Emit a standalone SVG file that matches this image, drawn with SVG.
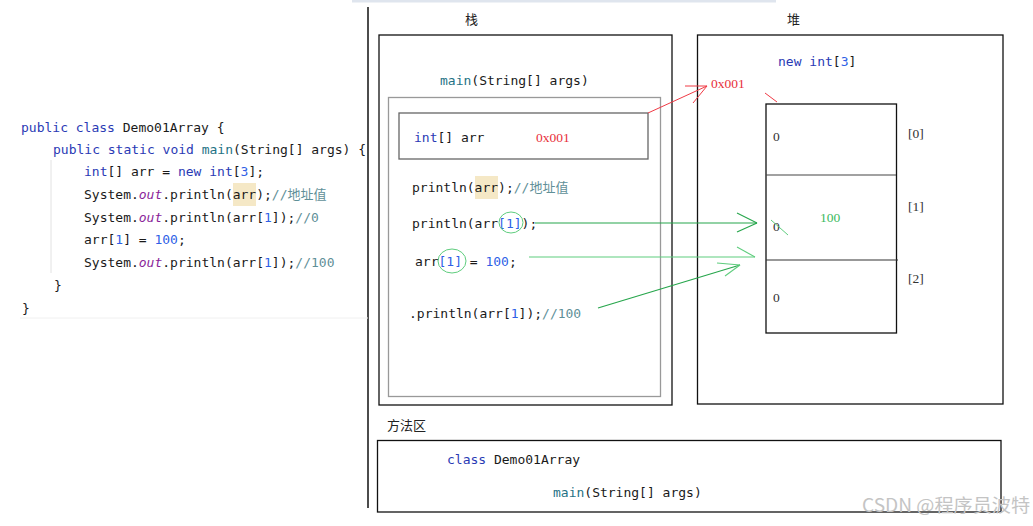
<svg xmlns="http://www.w3.org/2000/svg" width="1033" height="526" viewBox="0 0 1033 526">
<style>
.code{font-family:"DejaVu Sans Mono","Noto Sans CJK SC",monospace;font-size:13px;fill:#1a1a1a;white-space:pre}
.kw{fill:#2a3ab5}
.fn{fill:#1f7385}
.num{fill:#2f5fe6}
.cm{fill:#5f9098}
.st{fill:#8a1f9a;font-style:italic}
.cjk{font-family:"Noto Sans CJK SC",sans-serif;font-size:13px;fill:#222}
.sm{font-family:"Liberation Serif",serif;font-size:13.5px;fill:#333}
.red{fill:#e8303a}
.grn{fill:#3cba5e}
.box{fill:none;stroke:#111;stroke-width:1.3}
.gbox{fill:none;stroke:#999;stroke-width:1.3}
.rl{stroke:#f03a45;stroke-width:1;fill:none}
.g1{stroke:#27a64c;stroke-width:1.2;fill:none}
.g2{stroke:#5fcd7e;stroke-width:1.1;fill:none}
</style>
<rect width="1033" height="526" fill="#fff"/>
<rect x="352" y="0" width="424" height="2.5" fill="#dfe5ee"/>
<line x1="368" y1="7" x2="368" y2="508" stroke="#111" stroke-width="1.5"/>

<g id="code">
<line x1="51" y1="160" x2="51" y2="273" stroke="#e2e2e2" stroke-width="1"/>
<line x1="20" y1="318" x2="368" y2="318" stroke="#f0f0f0" stroke-width="1"/>
<rect x="233" y="183" width="23" height="23" fill="#f5e8c6"/>
<text class="code" x="21" y="132"><tspan class="kw">public class</tspan> Demo01Array {</text>
<text class="code" x="53" y="154"><tspan class="kw">public static void</tspan> <tspan class="fn">main</tspan>(String[] args) {</text>
<text class="code" x="84" y="176"><tspan class="kw">int</tspan>[] arr = <tspan class="kw">new int</tspan>[<tspan class="num">3</tspan>];</text>
<text class="code" x="84" y="199">System.<tspan class="st">out</tspan>.println(arr);<tspan class="cm">//地址值</tspan></text>
<text class="code" x="84" y="222">System.<tspan class="st">out</tspan>.println(arr[<tspan class="num">1</tspan>]);<tspan class="cm">//0</tspan></text>
<text class="code" x="84" y="244">arr[<tspan class="num">1</tspan>] = <tspan class="num">100</tspan>;</text>
<text class="code" x="84" y="267">System.<tspan class="st">out</tspan>.println(arr[<tspan class="num">1</tspan>]);<tspan class="cm">//100</tspan></text>
<text class="code" x="54" y="290">}</text>
<text class="code" x="22" y="313">}</text>
</g>

<g id="stack">
<text class="cjk" x="465" y="24">栈</text>
<rect class="box" x="379" y="35" width="293" height="370"/>
<text class="code" x="440" y="85"><tspan class="fn">main</tspan>(String[] args)</text>
<rect class="gbox" x="388.5" y="97.5" width="272" height="299"/>
<g id="arr-var">
<rect x="399" y="113" width="249" height="46" fill="none" stroke="#666" stroke-width="1.3"/>
<text class="code" x="414" y="142"><tspan class="kw">int</tspan>[] arr</text>
<text class="sm red" x="536" y="142">0x001</text>
</g>
<rect x="475" y="176" width="23" height="23" fill="#f5e8c6"/>
<text class="code" x="412" y="192">println(arr);<tspan class="cm">//地址值</tspan></text>
<text class="code" x="412" y="228">println(arr<tspan class="num">[1]</tspan>);</text>
<text class="code" x="415" y="266">arr<tspan class="num">[1]</tspan> = <tspan class="num">100</tspan>;</text>
<text class="code" x="409" y="318">.println(arr[<tspan class="num">1</tspan>]);<tspan class="cm">//100</tspan></text>
<ellipse cx="511" cy="222.5" rx="12" ry="10.5" fill="none" stroke="#5fcd7e" stroke-width="1"/>
<ellipse cx="452" cy="261" rx="14" ry="12" fill="none" stroke="#5fcd7e" stroke-width="1"/>
</g>

<g id="heap">
<text class="cjk" x="787" y="24">堆</text>
<rect class="box" x="697.5" y="35" width="305.5" height="369"/>
<text class="code" x="778" y="66"><tspan class="kw">new int</tspan>[<tspan class="num">3</tspan>]</text>
<text class="sm red" x="711" y="88">0x001</text>
</g>

<g id="array">
<rect x="766" y="104" width="130.5" height="229" fill="none" stroke="#111" stroke-width="1.3"/>
<line x1="766" y1="175" x2="896" y2="175" stroke="#444" stroke-width="1.2"/>
<line x1="766" y1="260" x2="898" y2="260" stroke="#333" stroke-width="1.2"/>
<text class="sm" x="773" y="141">0</text>
<text class="sm" x="773" y="231">0</text>
<text class="sm" x="773" y="302">0</text>
<text class="sm grn" x="820" y="222">100</text>
<line x1="771" y1="220" x2="788" y2="235" stroke="#5fcd7e" stroke-width="1"/>
<text class="sm" x="908" y="138">[0]</text>
<text class="sm" x="908" y="211">[1]</text>
<text class="sm" x="908" y="283">[2]</text>
</g>

<g id="method-area">
<text class="cjk" x="387" y="430">方法区</text>
<rect class="box" x="377.5" y="440.5" width="623.5" height="71.5"/>
<text class="code" x="447" y="464"><tspan class="kw">class</tspan> Demo01Array</text>
<text class="code" x="553" y="497"><tspan class="fn">main</tspan>(String[] args)</text>
</g>

<g id="connectors">
<line class="rl" x1="648" y1="113" x2="707" y2="86"/>
<line class="rl" x1="685" y1="86" x2="707" y2="86"/>
<line class="rl" x1="693" y1="103" x2="707" y2="86"/>
<line class="rl" x1="765" y1="93" x2="777" y2="102"/>
<line class="g1" x1="535" y1="223" x2="757" y2="223"/>
<line class="g1" x1="737" y1="213" x2="757" y2="223"/>
<line class="g1" x1="737" y1="232" x2="757" y2="223"/>
<line class="g2" x1="529" y1="257" x2="755" y2="257"/>
<line class="g2" x1="737" y1="247" x2="755" y2="257"/>
<line class="g1" x1="598" y1="308" x2="740" y2="265"/>
<line class="g2" x1="717" y1="263" x2="740" y2="265"/>
<line class="g2" x1="725" y1="276" x2="740" y2="265"/>
</g>

<text x="862" y="512" textLength="168" lengthAdjust="spacingAndGlyphs" font-family="'Noto Sans CJK SC',sans-serif" font-size="18" fill="#c4c4c4">CSDN @程序员波特</text>
</svg>
